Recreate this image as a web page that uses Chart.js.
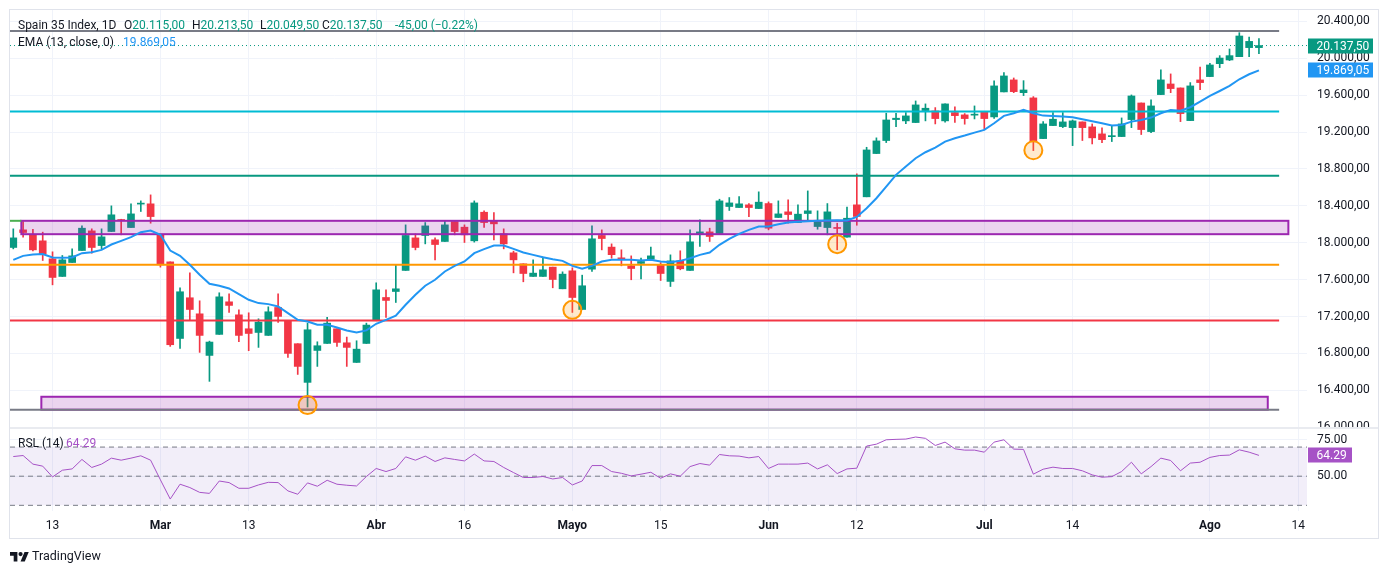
<!DOCTYPE html>
<html lang="es">
<head>
<meta charset="utf-8">
<title>Spain 35 Index, 1D</title>
<script src="https://cdn.jsdelivr.net/npm/chart.js@4.4.1/dist/chart.umd.min.js"></script>
<style>
    html, body { margin: 0; padding: 0; background: #fff; }
    body { position: relative; width: 1388px; height: 575px; overflow: hidden; font-family: Roboto, 'Noto Sans', sans-serif; color: #131722; }
    #frame { position: absolute; left: 9px; top: 9px; width: 1370px; height: 530px; border: 1px solid #e0e3eb; box-sizing: border-box; }
    #separator { position: absolute; left: 10px; top: 427px; width: 1368px; height: 2px; background: #e9ebf0; }
    canvas { position: absolute; left: 0; }
    #mainChart { top: 0; }
    #rsiChart { top: 428px; }
    .txt { position: absolute; font-size: 12px; line-height: 12px; white-space: nowrap; }
    .green { color: #089981; }
    .blue { color: #2196f3; }
    .purple { color: #a652c6; }
    #logo { position: absolute; left: 10px; top: 552px; }
    #brand { position: absolute; left: 32px; top: 550px; font-size: 12.5px; line-height: 12.5px; }
</style>
</head>
<body>
<div id="frame"></div>
<canvas id="mainChart" width="1388" height="428"></canvas>
<canvas id="rsiChart" width="1388" height="110"></canvas>
<div id="separator"></div>

<div class="txt" style="left:18px; top:18.6px;">Spain 35 Index, 1D</div>
<div class="txt" style="left:124px; top:18.6px;">O<span class="green">20.115,00</span></div>
<div class="txt" style="left:192px; top:18.6px;">H<span class="green">20.213,50</span></div>
<div class="txt" style="left:260px; top:18.6px;">L<span class="green">20.049,50</span></div>
<div class="txt" style="left:322px; top:18.6px;">C<span class="green">20.137,50</span></div>
<div class="txt green" style="left:395px; top:18.6px;">-45,00 (−0.22%)</div>
<div class="txt" style="left:18px; top:36px;">EMA (13, close, 0)</div>
<div class="txt blue" style="left:123px; top:36px;">19.869,05</div>
<div class="txt" style="left:18px; top:437px;">RSL (14)</div>
<div class="txt purple" style="left:66px; top:437px;">64.29</div>

<svg id="logo" width="19" height="9.5" viewBox="0 4 36 18"><path fill="#131722" d="M14 22H7V11H0V4h14v18zM28 22h-8l7.5-18h8L28 22z"/><circle fill="#131722" cx="20" cy="8" r="4"/></svg>
<div id="brand">TradingView</div>

<script>
// Daily candles (index 0 = first candle on the left)
const openPrices = [
    17949, 18140, 18086, 18021, 17826, 17635, 17786, 17916, 18129, 17970,
    18122, 18248, 18165, 18419, 18422, 18086, 17793, 16963, 17404, 17230,
    16779, 17007, 17360, 17219, 17068, 17028, 16996, 17299, 17155, 16906,
    16487, 16833, 16909, 17068, 16916, 16703, 16909, 17155, 17407, 17472,
    17700, 18053, 18079, 18032, 18014, 18230, 18169, 18021, 18331, 18237,
    18097, 17891, 17772, 17635, 17635, 17736, 17501, 17696, 17277, 17714,
    18079, 17953, 17834, 17750, 17776, 17822, 17761, 17581, 17804, 17700,
    18100, 18118, 18100, 18393, 18382, 18411, 18371, 18425, 18274, 18335,
    18219, 18317, 18176, 18165, 18162, 18061, 18411, 18498, 18967, 19108,
    19335, 19321, 19303, 19433, 19429, 19321, 19411, 19386, 19383, 19418,
    19364, 19635, 19765, 19627, 19570, 19129, 19270, 19259, 19248, 19310,
    19256, 19180, 19150, 19151, 19335, 19515, 19205, 19606, 19721, 19678,
    19324, 19765, 19801, 19941, 19981, 20017, 20115, 20115
];
const highPrices = [
    18151, 18230, 18147, 18115, 17902, 17862, 17934, 18183, 18151, 18151,
    18400, 18255, 18422, 18454, 18519, 18086, 17793, 17512, 17674, 17371,
    16934, 17458, 17447, 17274, 17241, 17176, 17306, 17447, 17155, 16906,
    17129, 16927, 17191, 17068, 16978, 16938, 17129, 17566, 17490, 17761,
    18194, 18097, 18219, 18053, 18241, 18230, 18194, 18454, 18346, 18328,
    18151, 17909, 17772, 17815, 17844, 17736, 17685, 17729, 17649, 18183,
    18140, 17988, 17924, 17858, 17833, 17952, 17786, 17869, 17913, 18140,
    18248, 18158, 18472, 18490, 18501, 18425, 18552, 18443, 18454, 18465,
    18411, 18562, 18346, 18425, 18212, 18386, 18747, 19035, 19137, 19404,
    19404, 19411, 19537, 19505, 19465, 19505, 19472, 19400, 19483, 19418,
    19754, 19844, 19786, 19757, 19584, 19313, 19411, 19411, 19331, 19310,
    19288, 19245, 19266, 19353, 19602, 19515, 19548, 19873, 19830, 19678,
    19736, 19905, 19945, 20028, 20100, 20277, 20230, 20213.5
];
const lowPrices = [
    17934, 18061, 17913, 17808, 17544, 17635, 17786, 17916, 17887, 17934,
    18122, 18086, 18165, 18339, 18212, 17736, 16877, 16855, 17165, 16812,
    16498, 17007, 17245, 16927, 16830, 16866, 16996, 17137, 16757, 16573,
    16220, 16660, 16909, 16877, 16660, 16703, 16909, 17155, 17191, 17353,
    17700, 17923, 17988, 17815, 18014, 18086, 18003, 18007, 18165, 18032,
    17934, 17674, 17577, 17635, 17635, 17512, 17501, 17245, 17277, 17689,
    17923, 17833, 17750, 17599, 17609, 17822, 17591, 17526, 17707, 17700,
    17960, 18014, 18100, 18350, 18382, 18284, 18371, 18140, 18274, 18212,
    18219, 18230, 18147, 18086, 17924, 18061, 18190, 18498, 18967, 19086,
    19259, 19292, 19303, 19321, 19288, 19306, 19303, 19285, 19342, 19230,
    19349, 19635, 19627, 19595, 18999, 19129, 19270, 19248, 19053, 19108,
    19071, 19086, 19097, 19151, 19248, 19173, 19194, 19606, 19627, 19313,
    19324, 19660, 19801, 19898, 19974, 20017, 20017, 20049.5
];
const closePrices = [
    18053, 18111, 17923, 17880, 17624, 17815, 17858, 18158, 17949, 18064,
    18303, 18241, 18313, 18422, 18284, 17761, 16895, 17469, 17277, 16996,
    16924, 17414, 17321, 16996, 17017, 17140, 17252, 17202, 16801, 16660,
    17057, 16884, 17129, 16920, 16866, 16847, 17108, 17490, 17375, 17501,
    18079, 17949, 18183, 17981, 18194, 18122, 18086, 18432, 18219, 18205,
    17988, 17815, 17667, 17671, 17707, 17602, 17660, 17407, 17534, 18043,
    18046, 17871, 17826, 17721, 17797, 17858, 17667, 17804, 17718, 18010,
    18118, 18068, 18454, 18432, 18422, 18382, 18440, 18158, 18313, 18306,
    18310, 18346, 18227, 18335, 18155, 18266, 18285, 19006, 19104, 19331,
    19350, 19375, 19494, 19458, 19346, 19505, 19378, 19346, 19386, 19346,
    19700, 19808, 19638, 19656, 19104, 19288, 19339, 19310, 19321, 19248,
    19137, 19118, 19155, 19288, 19591, 19227, 19483, 19765, 19671, 19400,
    19700, 19736, 19927, 20002, 20028, 20241, 20182.5, 20137.5
];
// EMA (13, close) as drawn on the chart
const emaValues = [
    17815, 17858, 17873, 17877, 17840, 17837, 17840, 17887, 17898, 17923,
    17981, 18021, 18061, 18115, 18133, 18086, 17916, 17858, 17761, 17653,
    17555, 17534, 17505, 17443, 17382, 17346, 17335, 17310, 17238, 17165,
    17147, 17111, 17111, 17082, 17050, 17028, 17050, 17122, 17165, 17209,
    17328, 17436, 17534, 17599, 17689, 17750, 17797, 17887, 17931, 17970,
    17970, 17934, 17895, 17869, 17844, 17822, 17804, 17750, 17718, 17750,
    17797, 17815, 17815, 17815, 17808, 17815, 17797, 17790, 17804, 17833,
    17869, 17895, 17978, 18043, 18097, 18140, 18176, 18176, 18201, 18219,
    18227, 18234, 18238, 18241, 18245, 18241, 18280, 18375, 18483, 18609,
    18736, 18826, 18916, 18981, 19032, 19097, 19133, 19162, 19194, 19223,
    19295, 19375, 19404, 19440, 19404, 19378, 19375, 19368, 19360, 19339,
    19318, 19295, 19270, 19277, 19313, 19331, 19357, 19404, 19440, 19432,
    19469, 19530, 19591, 19645, 19700, 19772, 19826, 19869.05
];
// RSI (14) as drawn in the lower pane
const rsiValues = [
    63.5, 64.2, 58.3, 56.9, 49.5, 54.1, 55.0, 61.5, 56.0, 58.3,
    62.4, 61.0, 62.4, 64.0, 61.0, 47.5, 34.3, 44.5, 42.2, 38.9,
    38.2, 46.7, 45.6, 41.7, 41.7, 44.0, 45.8, 45.6, 39.9, 37.6,
    45.4, 43.1, 47.2, 44.5, 43.8, 43.3, 49.8, 55.3, 53.2, 55.3,
    63.3, 61.0, 63.8, 60.1, 62.6, 61.5, 60.5, 65.2, 60.5, 60.1,
    56.0, 52.5, 49.1, 49.1, 49.8, 48.1, 49.1, 44.0, 46.7, 57.3,
    57.3, 53.2, 52.0, 50.2, 51.4, 52.7, 48.6, 51.6, 50.0, 56.6,
    58.7, 57.6, 64.9, 64.0, 63.8, 62.6, 63.5, 55.3, 58.3, 58.3,
    58.3, 59.0, 55.0, 57.8, 51.8, 55.0, 55.5, 70.7, 72.0, 75.0,
    75.3, 75.5, 76.9, 76.0, 71.1, 73.4, 68.8, 67.9, 67.9, 66.5,
    73.4, 75.0, 68.6, 68.4, 51.4, 54.8, 56.2, 55.3, 55.3, 53.7,
    50.9, 49.3, 49.7, 53.2, 59.6, 51.6, 56.6, 62.4, 60.8, 53.7,
    59.0, 59.6, 62.9, 64.2, 64.5, 68.1, 66.5, 64.29
];

// Axis ticks
const tickIndex = [4, 15, 24, 37, 46, 57, 66, 77, 86, 99, 108, 122, 131];
const tickLabels = ['13', 'Mar', '13', 'Abr', '16', 'Mayo', '15', 'Jun', '12', 'Jul', '14', 'Ago', '14'];
const monthLabels = ['Mar', 'Abr', 'Mayo', 'Jun', 'Jul', 'Ago'];
const priceTicks = [16000, 16400, 16800, 17200, 17600, 18000, 18400, 18800, 19200, 19600, 20000, 20400];
const rsiTicks = [50, 75];
const rsiBands = [70, 50, 30];

// Drawn levels, zones and marked lows
const levelValues = [20295, 19422, 18727, 17763, 17158, 16190];
const levelColors = ['#787b86', '#00bcd4', '#089981', '#ff9800', '#f23645', '#787b86'];
const zoneTop = [18238, 16331];
const zoneBottom = [18093, 16191];
const markedIndex = [30, 57, 84, 104];
const markedPrice = [16241, 17273, 17985, 19003];

const lastClose = 20137.5;
const lastEma = 19869.05;
const lastRsi = 64.29;

// Layout / style constants
const FONT = "Roboto, 'Noto Sans', sans-serif";
const TEXT = '#131722';
const GRID = '#f0f3fa';
const GREEN = '#089981';
const RED = '#f23645';
const BLUE = '#2196f3';
const RSI_COLOR = '#a652c6';
const X_MIN = -0.336;
const X_MAX = 131.9;
const LEVEL_END = 129.06;
const ZONE_FROM = [0.82, 2.86];
const ZONE_TO = [130.0, 127.9];
const PRICE_MIN = 15992.5;
const PRICE_MAX = 20522.7;
const RSI_MIN = 26.1;
const RSI_MAX = 83.1;

function formatPrice(v) {
    const parts = Number(v).toFixed(2).split('.');
    return parts[0].replace(/\B(?=(\d{3})+(?!\d))/g, '.') + ',' + parts[1];
}

const candleColors = openPrices.map((o, i) => closePrices[i] >= o ? GREEN : RED);

function levelLine(value, color, from, to, extra) {
    return Object.assign({
        type: 'line',
        data: [{ x: from, y: value }, { x: to, y: value }],
        borderColor: color,
        borderWidth: 2,
        pointRadius: 0,
        fill: false,
        order: 5
    }, extra || {});
}

function fixAxis(width, height) {
    return (s) => {
        if (width !== undefined) s.width = width;
        if (height !== undefined) s.height = height;
        s.paddingTop = 0;
        s.paddingBottom = 0;
        s.paddingLeft = 0;
        s.paddingRight = 0;
    };
}

// Zones drawn right after the candle bodies so lines stay on top
const zonePlugin = {
    id: 'zones',
    afterDatasetDraw(chart, args) {
        if (args.index !== 1) return;
        const { ctx, scales } = chart;
        ctx.save();
        for (let i = 0; i < zoneTop.length; i++) {
            const x1 = scales.x.getPixelForValue(ZONE_FROM[i]);
            const x2 = scales.x.getPixelForValue(ZONE_TO[i]);
            const y1 = scales.y.getPixelForValue(zoneTop[i]);
            const y2 = scales.y.getPixelForValue(zoneBottom[i]);
            ctx.fillStyle = 'rgba(156, 39, 176, 0.2)';
            ctx.fillRect(x1, y1, x2 - x1, y2 - y1);
            ctx.strokeStyle = '#9c27b0';
            ctx.lineWidth = 2;
            ctx.strokeRect(x1, y1, x2 - x1, y2 - y1);
        }
        ctx.restore();
    }
};

// Value tags on the right axis
function tagPlugin(tags) {
    return {
        id: 'tags',
        afterDraw(chart) {
            const { ctx, scales, chartArea } = chart;
            ctx.save();
            ctx.font = '12px ' + FONT;
            ctx.textBaseline = 'middle';
            tags.forEach(t => {
                const y = Math.round(scales.y.getPixelForValue(t.value));
                ctx.fillStyle = t.color;
                ctx.fillRect(chartArea.right + 1, y - 7.5, t.width, 15);
                ctx.fillStyle = '#fff';
                ctx.fillText(t.text, chartArea.right + 9.5, y + 0.5);
            });
            ctx.restore();
        }
    };
}

const mainChart = new Chart(document.getElementById('mainChart'), {
    type: 'bar',
    data: {
        datasets: [
            {
                // wicks
                data: openPrices.map((o, i) => ({ x: i, y: [lowPrices[i], highPrices[i]] })),
                backgroundColor: candleColors,
                barThickness: 1,
                grouped: false,
                order: 20
            },
            {
                // bodies
                data: openPrices.map((o, i) => ({ x: i, y: [o, closePrices[i]] })),
                backgroundColor: candleColors,
                barThickness: 7,
                minBarLength: 1,
                grouped: false,
                order: 19
            },
            ...levelValues.map((v, i) => levelLine(v, levelColors[i], X_MIN, LEVEL_END)),
            levelLine(zoneTop[0], '#4caf50', X_MIN, ZONE_FROM[0]),
            levelLine(lastClose, GREEN, X_MIN, X_MAX, { borderWidth: 1, borderDash: [1, 3], order: 4 }),
            {
                type: 'line',
                data: emaValues.map((v, i) => ({ x: i, y: v })),
                borderColor: BLUE,
                borderWidth: 2,
                pointRadius: 0,
                tension: 0,
                fill: false,
                order: 2
            },
            {
                type: 'line',
                data: markedIndex.map((v, i) => ({ x: v, y: markedPrice[i] })),
                showLine: false,
                pointRadius: 9,
                pointBorderWidth: 2,
                pointBorderColor: '#ff9800',
                pointBackgroundColor: 'rgba(255, 152, 0, 0.2)',
                order: 1
            }
        ]
    },
    options: {
        responsive: false,
        animation: false,
        events: [],
        layout: { autoPadding: false, padding: { left: 10, top: 10, right: 0, bottom: 0 } },
        plugins: { legend: { display: false }, tooltip: { enabled: false } },
        scales: {
            x: {
                type: 'linear',
                min: X_MIN,
                max: X_MAX,
                offset: false,
                afterBuildTicks: (s) => { s.ticks = tickIndex.map(v => ({ value: v })); },
                ticks: { display: false },
                grid: { color: GRID, drawTicks: false, offset: false },
                border: { display: false },
                afterFit: fixAxis(undefined, 0)
            },
            y: {
                position: 'right',
                min: PRICE_MIN,
                max: PRICE_MAX,
                beginAtZero: false,
                afterBuildTicks: (s) => { s.ticks = priceTicks.map(v => ({ value: v })); },
                ticks: {
                    padding: 10,
                    color: TEXT,
                    font: { family: FONT, size: 12 },
                    callback: (v) => formatPrice(v)
                },
                grid: { color: GRID, drawTicks: false },
                border: { display: false },
                afterFit: fixAxis(81)
            }
        }
    },
    plugins: [zonePlugin, tagPlugin([
        { value: lastClose, text: formatPrice(lastClose), color: GREEN, width: 65 },
        { value: lastEma, text: formatPrice(lastEma), color: BLUE, width: 65 }
    ])]
});

const rsiChart = new Chart(document.getElementById('rsiChart'), {
    type: 'line',
    data: {
        datasets: [
            {
                data: rsiValues.map((v, i) => ({ x: i, y: v })),
                borderColor: RSI_COLOR,
                borderWidth: 1,
                pointRadius: 0,
                tension: 0,
                fill: false,
                order: 1
            },
            {
                data: [{ x: X_MIN, y: rsiBands[0] }, { x: X_MAX, y: rsiBands[0] }],
                borderColor: '#787b86',
                borderWidth: 1,
                borderDash: [5, 4],
                pointRadius: 0,
                fill: { value: rsiBands[2] },
                backgroundColor: 'rgba(126, 87, 194, 0.1)',
                order: 5
            },
            {
                data: [{ x: X_MIN, y: rsiBands[1] }, { x: X_MAX, y: rsiBands[1] }],
                borderColor: '#787b86',
                borderWidth: 1,
                borderDash: [5, 4],
                pointRadius: 0,
                fill: false,
                order: 4
            },
            {
                data: [{ x: X_MIN, y: rsiBands[2] }, { x: X_MAX, y: rsiBands[2] }],
                borderColor: '#787b86',
                borderWidth: 1,
                borderDash: [5, 4],
                pointRadius: 0,
                fill: false,
                order: 4
            }
        ]
    },
    options: {
        responsive: false,
        animation: false,
        events: [],
        layout: { autoPadding: false, padding: { left: 10, top: 0, right: 0, bottom: 0 } },
        plugins: { legend: { display: false }, tooltip: { enabled: false } },
        scales: {
            x: {
                type: 'linear',
                min: X_MIN,
                max: X_MAX,
                afterBuildTicks: (s) => { s.ticks = tickIndex.map(v => ({ value: v })); },
                ticks: {
                    autoSkip: false,
                    maxRotation: 0,
                    padding: 8,
                    color: TEXT,
                    font: (c) => ({
                        family: FONT,
                        size: 12,
                        weight: c.tick && monthLabels.includes(tickLabels[tickIndex.indexOf(c.tick.value)]) ? 'bold' : 'normal'
                    }),
                    callback: (v) => tickLabels[tickIndex.indexOf(v)]
                },
                grid: { color: GRID, drawTicks: false },
                border: { display: false },
                afterFit: fixAxis(undefined, 27)
            },
            y: {
                position: 'right',
                min: RSI_MIN,
                max: RSI_MAX,
                afterBuildTicks: (s) => { s.ticks = rsiTicks.map(v => ({ value: v })); },
                ticks: {
                    padding: 10,
                    color: TEXT,
                    font: { family: FONT, size: 12 },
                    callback: (v) => Number(v).toFixed(2)
                },
                grid: { color: GRID, drawTicks: false },
                border: { display: false },
                afterFit: fixAxis(81)
            }
        }
    },
    plugins: [tagPlugin([
        { value: lastRsi, text: lastRsi.toFixed(2), color: RSI_COLOR, width: 44 }
    ])]
});
</script>
</body>
</html>
